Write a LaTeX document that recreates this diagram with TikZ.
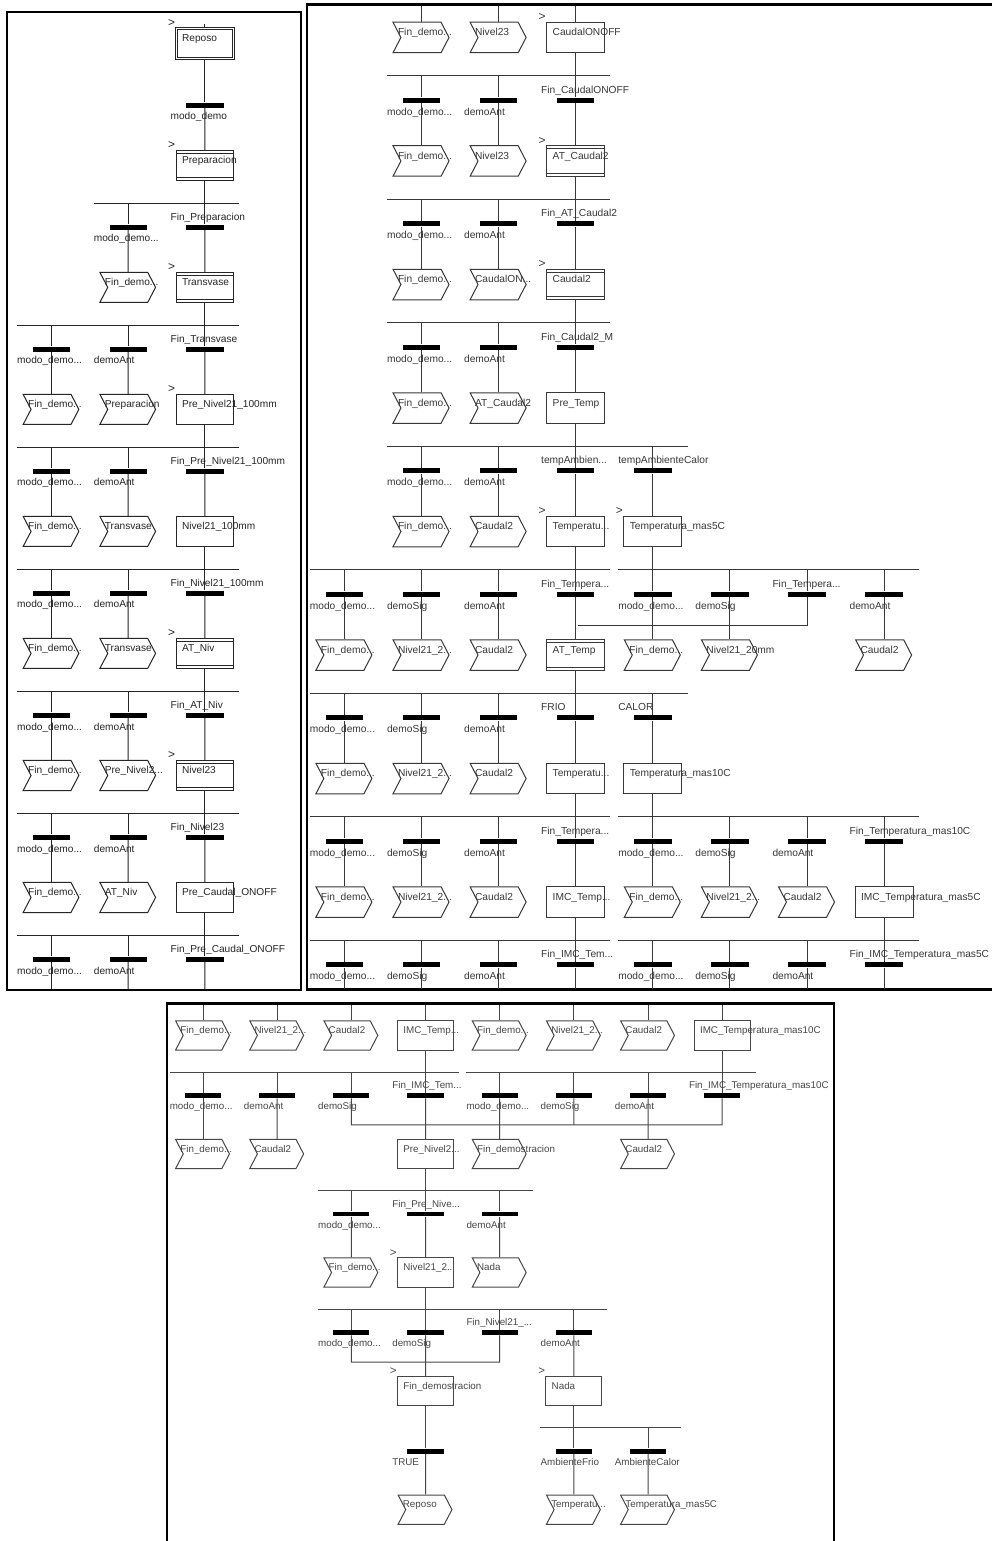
\documentclass[tikz,border=0pt]{standalone}
\usepackage{fontspec}
\setmainfont{Liberation Sans}
\usetikzlibrary{shapes.symbols}

\newcommand{\el}{...}
\newcommand{\modotxt}{modo\_demo\el}
\newcommand{\fintxt}{Fin\_demo\el}
\newcommand{\nivtxt}{Nivel21\_2\el}

\tikzset{
  panelframe/.style={draw=black, line width=2.5pt, inner sep=0pt},
  panelgrid/.style={x=77.1pt, y=-123.5pt, transform shape, line width=1pt, font=\fontsize{10.2}{12}\selectfont},
  transbar/.style={fill=black, draw=none, inner sep=0pt, minimum width=37.5pt, minimum height=5pt},
  lowlab/.style={anchor=base west, inner sep=0pt, xshift=-35pt, yshift=-15pt},
  highlab/.style={anchor=base west, inner sep=0pt, xshift=-35pt, yshift=7pt},
  steptext/.style={anchor=base west, inner sep=0pt, xshift=-23.5pt, yshift=1.7pt},
  plainstep/.style={draw, inner sep=0pt, minimum width=58pt, minimum height=30.5pt},
  macrostep/.style={plainstep, path picture={
    \draw ([yshift=-3pt]path picture bounding box.north west) -- ([yshift=-3pt]path picture bounding box.north east);
    \draw ([yshift=3pt]path picture bounding box.south west) -- ([yshift=3pt]path picture bounding box.south east);}},
  initstep/.style={plainstep, double, double distance=1pt},
  chevstep/.style={draw, shape=signal, signal from=west, signal to=east, signal pointer angle=125,
    inner sep=0pt, minimum width=56pt, minimum height=30.5pt, xshift=-.5pt},
  startmark/.style={label={[anchor=center, inner sep=0pt, xshift=-4pt, yshift=4.5pt, font=\fontsize{12}{12}\selectfont]north west:>}},
  startplain/.style={plainstep, startmark},
  startmacro/.style={macrostep, startmark},
  startinit/.style={initstep, startmark}
}

\newcommand{\toplinks}[3]{
  \foreach \c in {#2} \coordinate (#1-1t\c) at (\c,#3);
}
\newcommand{\forkline}[4]{
  \coordinate (#1#2l#3) at (#3-.45,#2+.437);
  \coordinate (#1#2r#4) at (#4+.45,#2+.437);
  \draw (#1#2l#3) -- (#1#2r#4);
}
\newcommand{\feedlinks}[3]{
  \coordinate (#1#2f) at (0,#2+.437);
  \foreach \c in {#3} \draw (#1#2c\c.south) -- (#1#2c\c.south |- #1#2f);
}
\newcommand{\steprow}[3]{
  \pgfmathtruncatemacro{\prevrow}{#2-1}
  \foreach \c/\kind/\txt in {#3} {
    \node[\kind] (#1#2c\c) at (\c,#2+.1255) {};
    \node[steptext] (#1#2n\c) at (#1#2c\c.center) {\txt};
    \draw (#1\prevrow t\c) -- (#1\prevrow t\c |- #1#2c\c.north);
  }
}
\newcommand{\transrow}[3]{
  \foreach \c/\pos/\txt in {#3} {
    \node[transbar] (#1#2t\c) at (\c,#2+.632) {};
    \node[\pos] (#1#2b\c) at (#1#2t\c.center) {\txt};
    \draw (#1#2t\c |- #1#2f) -- (#1#2t\c.north);
  }
}
\newcommand{\taillinks}[4]{
  \foreach \c in {#3} {
    \coordinate (#1e\c) at (\c,#2+.632+#4);
    \draw (#1#2t\c) -- (#1e\c);
  }
}

\begin{document}
\begin{tikzpicture}[x=1pt, y=-1pt]
  \path[use as bounding box, clip] (0,0) rectangle (992,1541);
  \fill[white] (0,0) rectangle (992,1541);

  \node[panelframe, minimum width=294pt, minimum height=978pt] (frameA) at (154,501) {};
  \node[panelframe, minimum width=700pt, minimum height=985pt] (frameB) at (657,497) {};
  \node[panelframe, minimum width=667pt, minimum height=560pt] (frameC) at (500.5,1283.5) {};

  \begin{scope}[shift={(51.5,28)}, xscale=.995, yscale=.988, panelgrid, color=black!85]
    \toplinks{A}{2}{-.035}
    \steprow{A}{0}{2/startinit/Reposo}
    \feedlinks{A}{0}{2}
    \transrow{A}{0}{2/lowlab/modo\_demo}
    \steprow{A}{1}{2/startmacro/Preparacion}
    \forkline{A}{1}{1}{2}
    \feedlinks{A}{1}{2}
    \transrow{A}{1}{1/lowlab/\modotxt, 2/highlab/Fin\_Preparacion}
    \steprow{A}{2}{1/chevstep/\fintxt, 2/startmacro/Transvase}
    \forkline{A}{2}{0}{2}
    \feedlinks{A}{2}{2}
    \transrow{A}{2}{0/lowlab/\modotxt, 1/lowlab/demoAnt, 2/highlab/Fin\_Transvase}
    \steprow{A}{3}{0/chevstep/\fintxt, 1/chevstep/Preparacion, 2/startplain/Pre\_Nivel21\_100mm}
    \forkline{A}{3}{0}{2}
    \feedlinks{A}{3}{2}
    \transrow{A}{3}{0/lowlab/\modotxt, 1/lowlab/demoAnt, 2/highlab/Fin\_Pre\_Nivel21\_100mm}
    \steprow{A}{4}{0/chevstep/\fintxt, 1/chevstep/Transvase, 2/plainstep/Nivel21\_100mm}
    \forkline{A}{4}{0}{2}
    \feedlinks{A}{4}{2}
    \transrow{A}{4}{0/lowlab/\modotxt, 1/lowlab/demoAnt, 2/highlab/Fin\_Nivel21\_100mm}
    \steprow{A}{5}{0/chevstep/\fintxt, 1/chevstep/Transvase, 2/startmacro/AT\_Niv}
    \forkline{A}{5}{0}{2}
    \feedlinks{A}{5}{2}
    \transrow{A}{5}{0/lowlab/\modotxt, 1/lowlab/demoAnt, 2/highlab/Fin\_AT\_Niv}
    \steprow{A}{6}{0/chevstep/\fintxt, 1/chevstep/Pre\_Nivel2\el, 2/startmacro/Nivel23}
    \forkline{A}{6}{0}{2}
    \feedlinks{A}{6}{2}
    \transrow{A}{6}{0/lowlab/\modotxt, 1/lowlab/demoAnt, 2/highlab/Fin\_Nivel23}
    \steprow{A}{7}{0/chevstep/\fintxt, 1/chevstep/AT\_Niv, 2/plainstep/Pre\_Caudal\_ONOFF}
    \forkline{A}{7}{0}{2}
    \feedlinks{A}{7}{2}
    \transrow{A}{7}{0/lowlab/\modotxt, 1/lowlab/demoAnt, 2/highlab/Fin\_Pre\_Caudal\_ONOFF}
    \taillinks{A}{7}{0,1,2}{.245}
  \end{scope}

  \begin{scope}[shift={(344.4,22)}, panelgrid, color=black!78]
    \toplinks{B}{1,2,3}{-.13}
    \steprow{B}{0}{1/chevstep/\fintxt, 2/chevstep/Nivel23, 3/startplain/CaudalONOFF}
    \forkline{B}{0}{1}{3}
    \feedlinks{B}{0}{3}
    \transrow{B}{0}{1/lowlab/\modotxt, 2/lowlab/demoAnt, 3/highlab/Fin\_CaudalONOFF}
    \steprow{B}{1}{1/chevstep/\fintxt, 2/chevstep/Nivel23, 3/startmacro/AT\_Caudal2}
    \forkline{B}{1}{1}{3}
    \feedlinks{B}{1}{3}
    \transrow{B}{1}{1/lowlab/\modotxt, 2/lowlab/demoAnt, 3/highlab/Fin\_AT\_Caudal2}
    \steprow{B}{2}{1/chevstep/\fintxt, 2/chevstep/CaudalON\el, 3/startmacro/Caudal2}
    \forkline{B}{2}{1}{3}
    \feedlinks{B}{2}{3}
    \transrow{B}{2}{1/lowlab/\modotxt, 2/lowlab/demoAnt, 3/highlab/Fin\_Caudal2\_M}
    \steprow{B}{3}{1/chevstep/\fintxt, 2/chevstep/AT\_Caudal2, 3/plainstep/Pre\_Temp}
    \forkline{B}{3}{1}{4}
    \feedlinks{B}{3}{3}
    \transrow{B}{3}{1/lowlab/\modotxt, 2/lowlab/demoAnt, 3/highlab/tempAmbien\el, 4/highlab/tempAmbienteCalor}
    \steprow{B}{4}{1/chevstep/\fintxt, 2/chevstep/Caudal2, 3/startplain/Temperatu\el, 4/startplain/Temperatura\_mas5C}
    \forkline{B}{4}{0}{3}
    \forkline{B}{4}{4}{7}
    \feedlinks{B}{4}{3,4}
    \transrow{B}{4}{0/lowlab/\modotxt, 1/lowlab/demoSig, 2/lowlab/demoAnt, 3/highlab/Fin\_Tempera\el,
      4/lowlab/\modotxt, 5/lowlab/demoSig, 6/highlab/Fin\_Tempera\el, 7/lowlab/demoAnt}
    \coordinate (Bj4) at (3.03,4.883);
    \coordinate (Bk4) at (6,4.883);
    \draw (B4t6) -- (Bk4) -- (Bj4);
    \steprow{B}{5}{0/chevstep/\fintxt, 1/chevstep/\nivtxt, 2/chevstep/Caudal2, 3/macrostep/AT\_Temp,
      4/chevstep/\fintxt, 5/chevstep/Nivel21\_20mm, 7/chevstep/Caudal2}
    \forkline{B}{5}{0}{4}
    \feedlinks{B}{5}{3}
    \transrow{B}{5}{0/lowlab/\modotxt, 1/lowlab/demoSig, 2/lowlab/demoAnt, 3/highlab/FRIO, 4/highlab/CALOR}
    \steprow{B}{6}{0/chevstep/\fintxt, 1/chevstep/\nivtxt, 2/chevstep/Caudal2, 3/plainstep/Temperatu\el, 4/plainstep/Temperatura\_mas10C}
    \forkline{B}{6}{0}{3}
    \forkline{B}{6}{4}{7}
    \feedlinks{B}{6}{3,4}
    \transrow{B}{6}{0/lowlab/\modotxt, 1/lowlab/demoSig, 2/lowlab/demoAnt, 3/highlab/Fin\_Tempera\el,
      4/lowlab/\modotxt, 5/lowlab/demoSig, 6/lowlab/demoAnt, 7/highlab/Fin\_Temperatura\_mas10C}
    \steprow{B}{7}{0/chevstep/\fintxt, 1/chevstep/\nivtxt, 2/chevstep/Caudal2, 3/plainstep/IMC\_Temp\el,
      4/chevstep/\fintxt, 5/chevstep/\nivtxt, 6/chevstep/Caudal2, 7/plainstep/IMC\_Temperatura\_mas5C}
    \forkline{B}{7}{0}{3}
    \forkline{B}{7}{4}{7}
    \feedlinks{B}{7}{3,7}
    \transrow{B}{7}{0/lowlab/\modotxt, 1/lowlab/demoSig, 2/lowlab/demoAnt, 3/highlab/Fin\_IMC\_Tem\el,
      4/lowlab/\modotxt, 5/lowlab/demoSig, 6/lowlab/demoAnt, 7/highlab/Fin\_IMC\_Temperatura\_mas5C}
    \taillinks{B}{7}{0,1,2,3,4,5,6,7}{.195}
  \end{scope}

  \begin{scope}[shift={(203,1020.5)}, xscale=.962, yscale=.96, panelgrid, color=black!72]
    \toplinks{C}{0,1,2,3,4,5,6,7}{-.13}
    \steprow{C}{0}{0/chevstep/\fintxt, 1/chevstep/\nivtxt, 2/chevstep/Caudal2, 3/plainstep/IMC\_Temp\el,
      4/chevstep/\fintxt, 5/chevstep/\nivtxt, 6/chevstep/Caudal2, 7/plainstep/IMC\_Temperatura\_mas10C}
    \forkline{C}{0}{0}{3}
    \forkline{C}{0}{4}{7}
    \feedlinks{C}{0}{3,7}
    \transrow{C}{0}{0/lowlab/\modotxt, 1/lowlab/demoAnt, 2/lowlab/demoSig, 3/highlab/Fin\_IMC\_Tem\el,
      4/lowlab/\modotxt, 5/lowlab/demoSig, 6/lowlab/demoAnt, 7/highlab/Fin\_IMC\_Temperatura\_mas10C}
    \coordinate (Cj0) at (2,.881);
    \coordinate (Ck0) at (7,.881);
    \draw (C0t2) -- (Cj0) -- (Ck0) -- (C0t7);
    \draw (C0t5) -- (C0t5 |- Cj0);
    \steprow{C}{1}{0/chevstep/\fintxt, 1/chevstep/Caudal2, 3/plainstep/Pre\_Nivel2\el, 4/chevstep/Fin\_demostracion, 6/chevstep/Caudal2}
    \forkline{C}{1}{2}{4}
    \feedlinks{C}{1}{3}
    \transrow{C}{1}{2/lowlab/\modotxt, 3/highlab/Fin\_Pre\_Nive\el, 4/lowlab/demoAnt}
    \steprow{C}{2}{2/chevstep/\fintxt, 3/startplain/\nivtxt, 4/chevstep/Nada}
    \forkline{C}{2}{2}{5}
    \feedlinks{C}{2}{3}
    \transrow{C}{2}{2/lowlab/\modotxt, 3/lowlab/demoSig, 4/highlab/Fin\_Nivel21\_\el, 5/lowlab/demoAnt}
    \coordinate (Cj2) at (2,2.881);
    \coordinate (Ck2) at (4,2.881);
    \draw (C2t2) -- (Cj2) -- (Ck2) -- (C2t4);
    \steprow{C}{3}{3/startplain/Fin\_demostracion, 5/startplain/Nada}
    \forkline{C}{3}{5}{6}
    \feedlinks{C}{3}{3,5}
    \transrow{C}{3}{3/lowlab/TRUE, 5/lowlab/AmbienteFrio, 6/lowlab/AmbienteCalor}
    \steprow{C}{4}{3/chevstep/Reposo, 5/chevstep/Temperatu\el, 6/chevstep/Temperatura\_mas5C}
  \end{scope}
\end{tikzpicture}
\end{document}
